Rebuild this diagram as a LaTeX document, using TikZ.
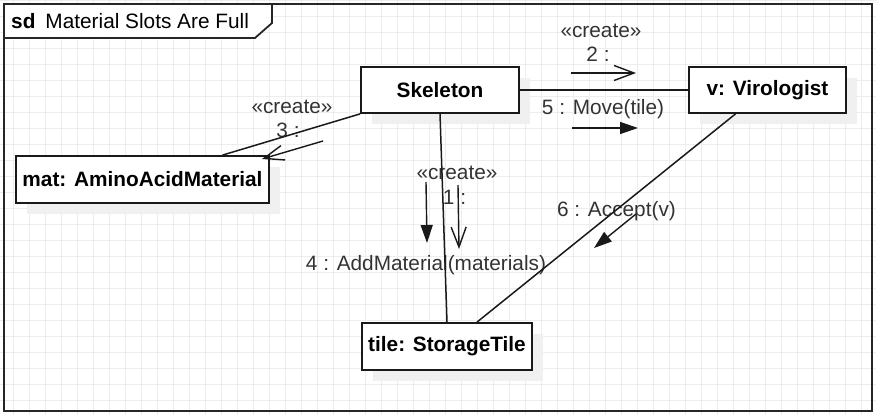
\documentclass[tikz,border=0pt]{standalone}
\usepackage{fontspec}
\setmainfont{Liberation Sans}
\usepackage{tikz}
\usetikzlibrary{arrows.meta,shadows}

\begin{document}
\begin{tikzpicture}[
  x=1pt, y=-1pt,
  font=\fontsize{20.8}{25}\selectfont,
  gridline/.style={draw=black!7, line width=.8pt},
  frame/.style={draw=black!85, line width=1.8pt, line join=miter},
  obj/.style={draw=black!90, fill=white, line width=1.8pt, inner sep=0pt,
              font=\fontsize{20.8}{25}\selectfont\bfseries,
              drop shadow={shadow xshift=11pt, shadow yshift=-11pt, fill=black!6, opacity=1}},
  lbl/.style={inner sep=0pt, text=black!80, text height=14.5pt, text depth=4pt},
  link/.style={draw=black!90, line width=1.5pt},
  msgopen/.style={draw=black!90, line width=1.4pt, -{Straight Barb[length=20pt,width=15pt]}},
  msgfill/.style={draw=black!90, line width=1.4pt, -{Triangle[length=18pt,width=12pt]}},
]
\useasboundingbox (0,0) rectangle (876,415);

% ---------------- canvas grid ----------------
\draw[gridline, step=16pt, xshift=13pt] (-13,0) grid (863,415);

% ---------------- sd frame + name tab ----------------
\draw[frame] (4,4) rectangle (872,411);
\draw[frame, fill=white] (4,4) -- (272,4) -- (272,23) -- (255,38) -- (4,38) -- cycle;
\node[anchor=west, inner sep=0pt] (title) at (11,21)
  {\textbf{sd}\hspace{10pt}Material Slots Are Full};

% ---------------- message labels ----------------
\node[lbl] (lc2) at (601,32)    {«create»};
\node[lbl] (l2)  at (598,56)    {2 :};
\node[lbl] (l5)  at (603,109)   {5 : Move(tile)};
\node[lbl] (lc3) at (292,108)   {«create»};
\node[lbl] (l3)  at (288,132)   {3 :};
\node[lbl] (lc1) at (457,174)   {«create»};
\node[lbl] (l1)  at (454.5,199) {1 :};
\node[lbl] (l4)  at (426,265)   {4 : AddMaterial(materials)};
\node[lbl] (l6)  at (616.5,211) {6 : Accept(v)};

% ---------------- objects ----------------
\node[obj, minimum width=158pt, minimum height=46pt] (skel) at (440,90)    {Skeleton};
\node[obj, minimum width=157pt, minimum height=46pt] (vir)  at (767.5,90)  {v: Virologist};
\node[obj, minimum width=253pt, minimum height=47pt] (mat)  at (142.5,179.5) {mat: AminoAcidMaterial};
\node[obj, minimum width=170pt, minimum height=47pt] (tile) at (447,346.5) {tile: StorageTile};

% ---------------- links ----------------
\draw[link] (skel.east) -- (vir.west);
\draw[link] (skel.south west) -- ([xshift=80pt]mat.north);
\draw[link] (skel.south) -- (tile.north);
\draw[link] ([xshift=-32pt]vir.south) -- ([xshift=30pt]tile.north);

% ---------------- messages (arrow beside its link) ----------------
\coordinate (a2s) at (571,73);  \coordinate (a2e) at (636,73);
\coordinate (a5s) at (572,128); \coordinate (a5e) at (638,128);
\coordinate (a3s) at (323,141); \coordinate (a3e) at (262,159);
\coordinate (a1s) at (458,185); \coordinate (a1e) at (459,249);
\coordinate (a4s) at (426,182); \coordinate (a4e) at (427,243);
\coordinate (a6s) at (636,214); \coordinate (a6e) at (594,248);

\draw[msgopen] (a2s) -- (a2e);
\draw[msgfill] (a5s) -- (a5e);
\draw[msgopen] (a3s) -- (a3e);
\draw[msgopen] (a1s) -- (a1e);
\draw[msgfill] (a4s) -- (a4e);
\draw[msgfill] (a6s) -- (a6e);

\end{tikzpicture}
\end{document}
